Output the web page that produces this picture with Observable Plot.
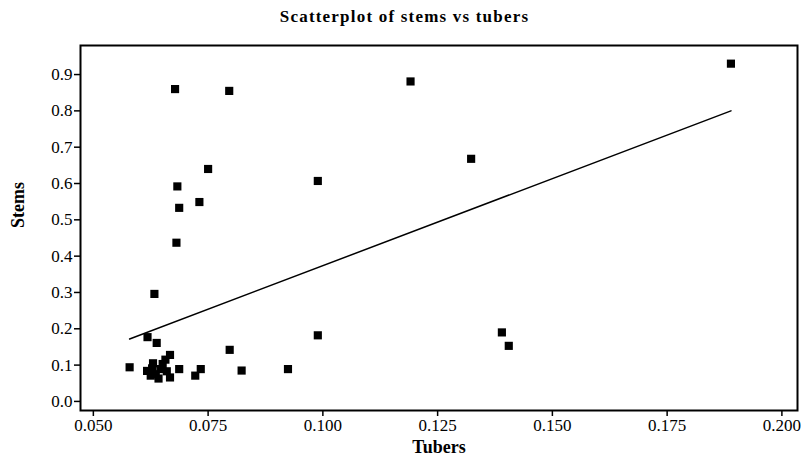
<!DOCTYPE html>
<html>
<head>
<meta charset="utf-8">
<script src="https://cdn.jsdelivr.net/npm/d3@7"></script>
<script src="https://cdn.jsdelivr.net/npm/@observablehq/plot@0.6"></script>
<style>
  html, body { margin: 0; padding: 0; background: #fff; }
  #title { width: 809px; height: 30px; line-height: 34px; text-align: center;
           font-family: "Liberation Serif", serif; font-weight: bold; font-size: 17px; letter-spacing: 1.2px; color: #000; }
</style>
</head>
<body>
<div id="title">Scatterplot of stems vs tubers</div>
<div id="chart"></div>
<script>
// Tubers (x) and Stems (y)
const tubers = [0.1889, 0.1191, 0.1323, 0.0989, 0.0678, 0.0796, 0.0750, 0.0683, 0.0731, 0.0687, 0.0681, 0.0633,
                0.0618, 0.0638, 0.0667, 0.0657, 0.0579, 0.0687, 0.0734, 0.0722, 0.0667, 0.0797, 0.0823, 0.0924, 0.0989,
                0.1390, 0.1405,
                0.0617, 0.0628, 0.0636, 0.0646, 0.0642, 0.0625, 0.0651, 0.0660, 0.0630];
const stems  = [0.930, 0.881, 0.668, 0.607, 0.860, 0.855, 0.640, 0.592, 0.549, 0.533, 0.437, 0.296,
                0.177, 0.161, 0.128, 0.115, 0.094, 0.089, 0.089, 0.071, 0.066, 0.142, 0.085, 0.089, 0.182,
                0.190, 0.153,
                0.084, 0.091, 0.075, 0.089, 0.063, 0.071, 0.103, 0.083, 0.105];
// fitted line end points
const fitX = [0.0579, 0.1889];
const fitY = [0.172, 0.800];
const xTicks = [0.050, 0.075, 0.100, 0.125, 0.150, 0.175, 0.200];
const yTicks = [0.0, 0.1, 0.2, 0.3, 0.4, 0.5, 0.6, 0.7, 0.8, 0.9];

const pts = tubers.map((t, i) => ({tubers: t, stems: stems[i]}));
const fit = fitX.map((t, i) => ({tubers: t, stems: fitY[i]}));

const chart = Plot.plot({
  width: 809,
  height: 431,
  marginTop: 15,
  marginBottom: 51,
  marginLeft: 80,
  marginRight: 12,
  style: {fontFamily: "Liberation Serif, serif", fontSize: "17px", color: "#000", background: "#fff"},
  x: {domain: [0.0472, 0.2034]},
  y: {domain: [-0.025, 0.98]},
  marks: [
    Plot.axisX({ticks: xTicks, tickFormat: d3.format(".3f"), tickSize: 6, tickPadding: 2, label: null, strokeWidth: 1.5}),
    Plot.axisY({ticks: yTicks, tickFormat: d3.format(".1f"), tickSize: 6, tickPadding: 2, label: null, strokeWidth: 1.5}),
    Plot.frame({stroke: "#000", strokeWidth: 2}),
    Plot.line(fit, {x: "tubers", y: "stems", stroke: "#000", strokeWidth: 1.5}),
    Plot.dot(pts, {x: "tubers", y: "stems", symbol: "square", r: 4.6, fill: "#000", stroke: "none"}),
    Plot.text(["Tubers"], {frameAnchor: "bottom", dy: 42, text: d => d, fontWeight: "bold", fontSize: 18, letterSpacing: "1px"}),
    Plot.text(["Stems"], {frameAnchor: "left", dx: -62, rotate: -90, text: d => d, fontWeight: "bold", fontSize: 18, letterSpacing: "1px"})
  ]
});
document.getElementById("chart").appendChild(chart);
</script>
</body>
</html>
